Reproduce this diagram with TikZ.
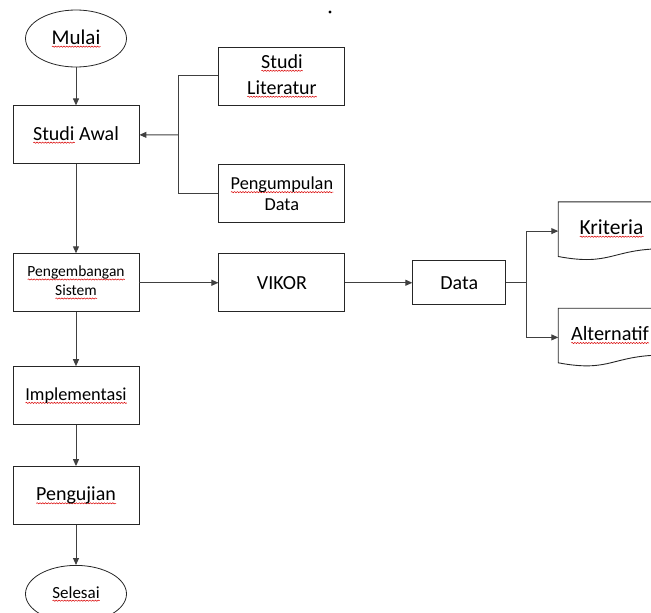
\documentclass[tikz,border=0pt]{standalone}
\usepackage{fontspec}
\setmainfont{Carlito}
\usetikzlibrary{positioning,arrows.meta,shapes.geometric,calc,decorations.pathmorphing}

% red spelling squiggle under a word
\newbox\sqbox
\newdimen\sqwd
\newcommand\sq[1]{\setbox\sqbox\hbox{#1}\sqwd=\wd\sqbox\leavevmode\rlap{\tikz[baseline=0pt]\draw[red!85!black, line width=0.5pt, decorate, decoration={snake, amplitude=0.6pt, segment length=2.8pt}] (0pt,-2.6pt) -- (\sqwd,-2.6pt);}\box\sqbox}

\begin{document}
\begin{tikzpicture}[
  node distance=40pt and 79pt,
  box/.style={rectangle, draw=black!85, line width=0.9pt, minimum width=126pt, minimum height=58pt, align=center, inner sep=2pt, font=\fontsize{20}{26}\selectfont},
  term/.style={ellipse, draw=black!85, line width=0.8pt, minimum width=101pt, minimum height=57pt, inner sep=0pt, font=\fontsize{20}{24}\selectfont},
  doc/.style={rectangle, minimum width=106pt, minimum height=58pt, inner sep=0pt, text height=14pt, text depth=8pt, font=\fontsize{21.5}{26}\selectfont},
  docline/.style={draw=black!85, line width=0.9pt},
  line/.style={draw=black!75, line width=1pt},
  arrow/.style={-{Triangle[length=7pt,width=6pt]}, line width=1pt, draw=black!75},
]
  \useasboundingbox (0pt,0pt) rectangle (651pt,-613pt);
  \clip (0pt,0pt) rectangle (651pt,-613pt);

  % Main column
  \node[term, font=\fontsize{21}{24}\selectfont] (mulai) at (76pt,-38.5pt) {\sq{Mulai}};
  \node[box, below=38pt of mulai] (awal) {\sq{Studi} Awal};
  \node[box, below=89pt of awal, font=\fontsize{15.5}{19}\selectfont] (sistem) {\sq{Pengembangan}\\\sq{Sistem}};
  \node[box, below=54pt of sistem, font=\fontsize{18.3}{22}\selectfont] (impl) {\sq{Implementasi}};
  \node[box, below=41pt of impl] (uji) {\sq{Pengujian}};
  \node[term, below=40pt of uji, font=\fontsize{17}{20}\selectfont] (selesai) {\sq{Selesai}};

  % Inputs of Studi Awal
  \node[box, above right=0pt and 79pt of awal] (lit) {\sq{Studi}\\\sq{Literatur}};
  \node[box, below right=0pt and 79pt of awal, font=\fontsize{18.3}{21}\selectfont] (kumpul) {\sq{Pengumpulan}\\Data};

  % Method branch
  \node[box, right=79pt of sistem] (vikor) {VIKOR};
  \node[box, right=67pt of vikor, minimum width=93pt, minimum height=44pt] (data) {Data};
  \node[doc, above right=0pt and 52pt of data] (krit) {\sq{Kriteria}};
  \node[doc, below right=3pt and 52pt of data, font=\fontsize{20.3}{24}\selectfont] (alt) {\hspace*{-3pt}\sq{Alternatif}};

  \node[circle, fill=black, inner sep=0pt, minimum size=3.4pt] (dot) at (330pt,-12pt) {};

  % Document outlines
  \foreach \d in {krit,alt}
    \draw[docline] (\d.north west) -- (\d.north east) -- ([yshift=11.6pt]\d.south east)
      .. controls ([yshift=11.6pt]\d.south) and ([yshift=-6.2pt]\d.south) .. ([yshift=3.8pt]\d.south west) -- cycle;

  % Arrows
  \draw[arrow] (mulai) -- (awal);
  \draw[arrow] (awal) -- (sistem);
  \draw[arrow] (sistem) -- (impl);
  \draw[arrow] (impl) -- (uji);
  \draw[arrow] (uji) -- (selesai);

  \coordinate (jn) at ($(awal.east)!0.5!(awal.east -| lit.west)$);
  \draw[line] (lit.west) -| (jn) |- (kumpul.west);
  \draw[arrow] (jn) -- (awal.east);

  \draw[arrow] (sistem) -- (vikor);
  \draw[arrow] (vikor) -- (data);
  \coordinate[right=20pt of data.east] (br);
  \draw[line] (data.east) -- (br);
  \draw[arrow] (br) |- (krit.west);
  \draw[arrow] (br) |- (alt.west);
\end{tikzpicture}
\end{document}
